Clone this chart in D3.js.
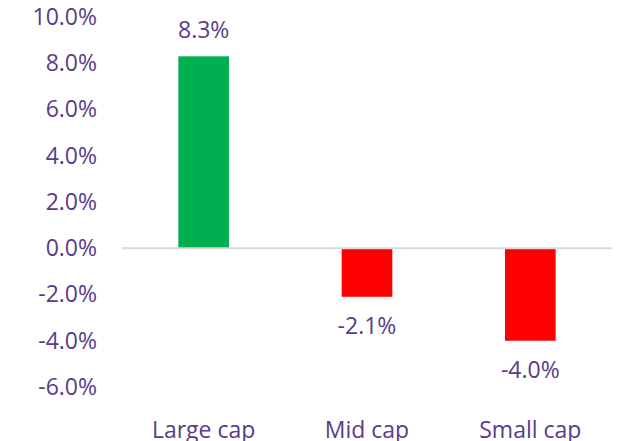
<!DOCTYPE html>
<html><head><meta charset="utf-8">
<script src="https://cdn.jsdelivr.net/npm/d3@7"></script>
<style>body{margin:0;background:#fff}svg{display:block}</style>
</head><body>
<svg id="c" width="621" height="441"></svg>
<script>
const categories = ["Large cap", "Mid cap", "Small cap"];
const values = [8.3, -2.1, -4.0];
const tickValues = [10, 8, 6, 4, 2, 0, -2, -4, -6];
const colors = ["#00B050", "#FF0000", "#FF0000"];

const svg = d3.select("#c");
const font = "'Open Sans', Lato, sans-serif";
const fs = 23;
const textColor = "#583D88";
const x = d3.scaleBand().domain(categories).range([122, 612]).paddingInner(0.69).paddingOuter(0.345);
const y = d3.scaleLinear().domain([-6, 10]).range([387, 17]);

const yAxis = svg.append("g").attr("transform", "translate(97,0)")
  .call(d3.axisLeft(y).tickValues(tickValues).tickSize(0).tickPadding(0).tickFormat(d => d.toFixed(1) + "%"));
yAxis.select(".domain").remove();
yAxis.selectAll("text").attr("font-family", font).attr("font-size", fs).attr("fill", textColor);

svg.append("g").selectAll("rect").data(values).join("rect")
  .attr("x", (d, i) => x(categories[i]))
  .attr("width", x.bandwidth())
  .attr("y", d => y(Math.max(0, d)))
  .attr("height", d => Math.abs(y(d) - y(0)))
  .attr("fill", (d, i) => colors[i]);

svg.append("line").attr("x1", 122).attr("x2", 612).attr("y1", y(0)).attr("y2", y(0))
  .attr("stroke", "#d9d9d9").attr("stroke-width", 2);

svg.append("g").selectAll("text").data(values).join("text")
  .attr("x", (d, i) => x(categories[i]) + x.bandwidth() / 2)
  .attr("y", d => d >= 0 ? y(d) - 26 : y(d) + 29)
  .attr("dy", "0.35em")
  .attr("text-anchor", "middle")
  .attr("font-family", font).attr("font-size", fs).attr("fill", textColor)
  .text(d => d.toFixed(1) + "%");

svg.append("g").selectAll("text").data(categories).join("text")
  .attr("x", d => x(d) + x.bandwidth() / 2)
  .attr("y", 430).attr("dy", "0.35em")
  .attr("text-anchor", "middle")
  .attr("font-family", font).attr("font-size", fs).attr("fill", textColor)
  .text(d => d);
</script>
</body></html>
